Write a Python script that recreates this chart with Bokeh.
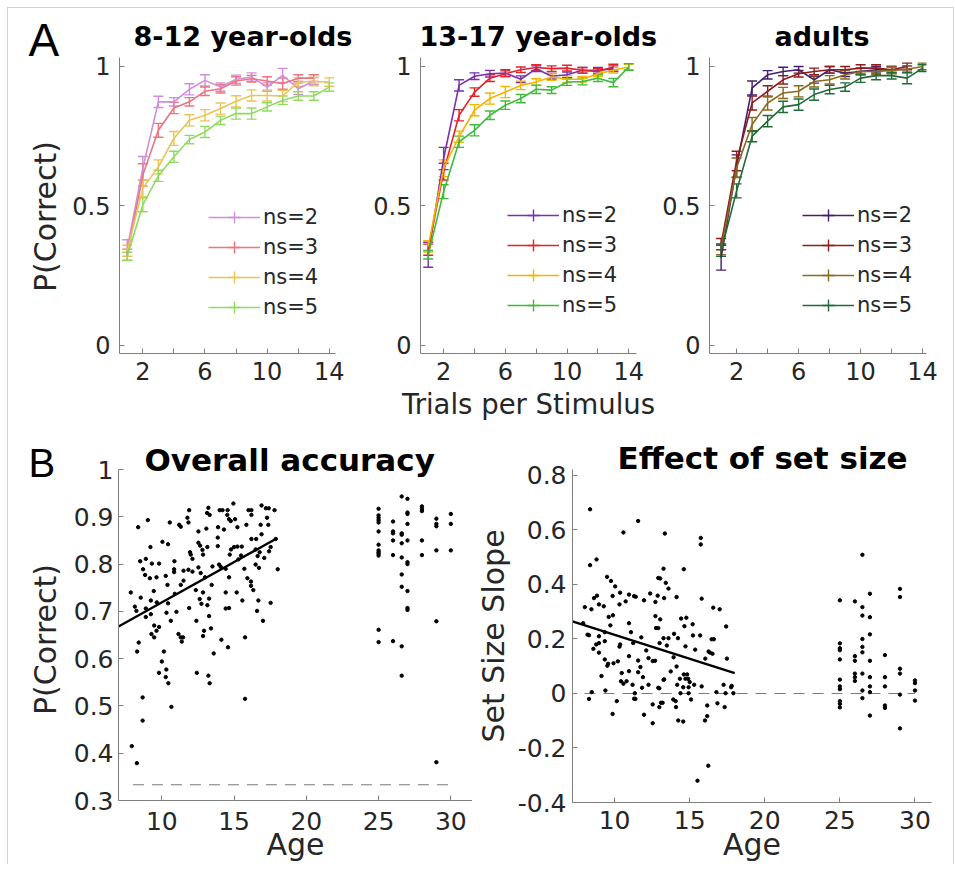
import numpy as np
from bokeh.plotting import figure
from bokeh.layouts import column, row
from bokeh.models import (ColumnDataSource, Whisker, TeeHead, Legend, LegendItem,
                          Label, FixedTicker, Range1d)
from bokeh.embed import file_html
from bokeh.resources import INLINE

FONT = "DejaVu Sans"
LETTER_FONT = "Liberation Sans"
TXT = "#262626"
AXC = "#808080"

# ---------------- Panel A data ----------------
trials = [1, 2, 3, 4, 5, 6, 7, 8, 9, 10, 11, 12, 13, 14]
set_size_labels = ["ns=2", "ns=3", "ns=4", "ns=5"]
group_titles = ["8-12 year-olds", "13-17 year-olds", "adults"]

# 8-12 year-olds
kid_ns2 = [0.349, 0.635, 0.873, 0.873, 0.918, 0.950, 0.926, 0.954, 0.962, 0.926, 0.968, 0.920, 0.948]
kid_ns3 = [0.325, 0.611, 0.771, 0.851, 0.873, 0.911, 0.920, 0.948, 0.956, 0.948, 0.938, 0.958, 0.958]
kid_ns4 = [0.339, 0.563, 0.640, 0.742, 0.807, 0.825, 0.849, 0.875, 0.896, 0.896, 0.894, 0.944, 0.946, 0.944]
kid_ns5 = [0.319, 0.504, 0.608, 0.676, 0.738, 0.765, 0.807, 0.831, 0.831, 0.855, 0.879, 0.894, 0.894, 0.926]
kid_err2 = [0.030, 0.042, 0.020, 0.015, 0.020, 0.020, 0.015, 0.015, 0.015, 0.015, 0.025, 0.020, 0.012]
kid_err3 = [0.020, 0.040, 0.025, 0.020, 0.015, 0.015, 0.015, 0.015, 0.012, 0.015, 0.020, 0.012, 0.012]
kid_err4 = [0.020, 0.030, 0.025, 0.025, 0.020, 0.020, 0.020, 0.020, 0.020, 0.020, 0.020, 0.015, 0.015, 0.015]
kid_err5 = [0.015, 0.025, 0.020, 0.020, 0.015, 0.020, 0.015, 0.020, 0.020, 0.015, 0.015, 0.015, 0.015, 0.015]

# 13-17 year-olds
teen_ns2 = [0.325, 0.670, 0.932, 0.965, 0.974, 0.976, 0.954, 0.992, 0.965, 0.970, 0.986, 0.986, 0.992]
teen_ns3 = [0.343, 0.623, 0.825, 0.908, 0.958, 0.974, 0.988, 0.996, 0.992, 0.994, 0.986, 0.982, 0.998]
teen_ns4 = [0.355, 0.635, 0.748, 0.843, 0.885, 0.908, 0.932, 0.944, 0.962, 0.954, 0.954, 0.974, 0.986, 0.998]
teen_ns5 = [0.325, 0.551, 0.730, 0.771, 0.825, 0.861, 0.885, 0.918, 0.915, 0.944, 0.946, 0.958, 0.942, 0.998]
teen_err2 = [0.045, 0.040, 0.020, 0.012, 0.012, 0.012, 0.012, 0.010, 0.010, 0.010, 0.010, 0.010, 0.010]
teen_err3 = [0.020, 0.030, 0.020, 0.015, 0.012, 0.010, 0.010, 0.010, 0.010, 0.010, 0.010, 0.010, 0.010]
teen_err4 = [0.020, 0.030, 0.020, 0.020, 0.020, 0.020, 0.015, 0.012, 0.012, 0.012, 0.010, 0.010, 0.010, 0.010]
teen_err5 = [0.015, 0.025, 0.020, 0.020, 0.015, 0.015, 0.015, 0.015, 0.012, 0.012, 0.012, 0.012, 0.015, 0.012]

# adults
adult_ns2 = [0.315, 0.643, 0.923, 0.970, 0.982, 0.988, 0.952, 0.988, 0.976, 0.982, 0.988, 0.988, 0.990]
adult_ns3 = [0.363, 0.661, 0.869, 0.911, 0.952, 0.974, 0.982, 0.988, 0.988, 0.994, 0.994, 0.988, 1.000]
adult_ns4 = [0.345, 0.637, 0.792, 0.869, 0.905, 0.911, 0.946, 0.952, 0.970, 0.982, 0.982, 0.986, 0.990, 1.000]
adult_ns5 = [0.339, 0.554, 0.750, 0.804, 0.855, 0.863, 0.899, 0.917, 0.926, 0.958, 0.967, 0.967, 0.958, 0.994]
adult_err2 = [0.045, 0.040, 0.025, 0.015, 0.015, 0.012, 0.012, 0.012, 0.012, 0.012, 0.012, 0.012, 0.012]
adult_err3 = [0.020, 0.035, 0.025, 0.020, 0.015, 0.012, 0.012, 0.012, 0.012, 0.012, 0.012, 0.012, 0.012]
adult_err4 = [0.020, 0.035, 0.025, 0.025, 0.020, 0.020, 0.020, 0.015, 0.015, 0.012, 0.012, 0.012, 0.012, 0.012]
adult_err5 = [0.020, 0.025, 0.020, 0.020, 0.020, 0.020, 0.020, 0.015, 0.015, 0.015, 0.015, 0.012, 0.020, 0.012]

kid_colors = ["#cf8fda", "#ec7580", "#eac456", "#8fdb60"]
teen_colors = ["#7b30ad", "#e2242a", "#f2b600", "#3fbb3c"]
adult_colors = ["#432170", "#8c1c1e", "#8a6a1b", "#1f6a36"]

# ---------------- Panel B data ----------------
child_age_acc = [14.95, 13.22, 11.89, 14.0, 14.2, 14.55, 16.0, 16.2, 16.9, 17.2, 17.4, 17.8, 9.03, 8.36,
                 10.55, 11.77, 11.84, 13.13, 13.31, 14.53, 14.65, 14.77, 15.07, 15.85, 16.2, 17.28, 17.37,
                 16.84, 11.2, 11.31, 13.89, 12.53, 13.08, 14.3, 15.23, 16.9, 16.53, 16.2, 9.21, 10.04, 10.43,
                 12.53, 12.65, 13.87, 13.87, 13.15, 12.81, 11.95, 12.0, 12.12, 12.85, 14.7, 14.79, 15.0, 15.23,
                 15.53, 15.48, 16.49, 16.63, 16.77, 17.42, 17.53, 8.5, 8.89, 9.31, 9.81, 10.87, 8.7, 8.84, 9.17,
                 9.63, 10.27, 10.85, 10.85, 11.5, 11.84, 12.12, 12.53, 12.69, 12.99, 13.5, 13.96, 14.08, 14.42,
                 14.65, 15.3, 15.71, 15.92, 16.17, 16.49, 16.72, 17.09, 17.88, 18.02, 7.85, 8.54, 8.13, 8.24,
                 8.89, 8.89, 9.24, 9.24, 9.44, 9.65, 10.39, 10.43, 10.9, 11.01, 11.31, 11.5, 11.89, 12.35,
                 12.62, 12.74, 12.39, 12.85, 13.27, 13.27, 13.15, 13.45, 14.42, 14.42, 14.65, 15.18, 15.57,
                 16.17, 16.33, 16.68, 16.59, 17.53, 17.0, 9.47, 9.81, 9.28, 9.47, 9.63, 10.32, 10.62, 11.15,
                 11.31, 11.47, 11.38, 10.14, 8.29, 8.4, 10.0, 12.85, 12.92, 13.4, 14.12, 14.58, 13.59, 15.76,
                 9.8, 10.31, 10.27, 10.45, 12.42, 13.22, 13.31, 8.67, 10.66, 8.67, 15.76, 7.92, 8.27]
child_acc = [0.928, 0.919, 0.914, 0.914, 0.914, 0.914, 0.914, 0.914, 0.924, 0.918, 0.918, 0.914, 0.893, 0.878,
             0.888, 0.898, 0.888, 0.908, 0.904, 0.904, 0.895, 0.891, 0.895, 0.883, 0.904, 0.898, 0.883,
             0.883, 0.883, 0.879, 0.878, 0.869, 0.875, 0.873, 0.878, 0.863, 0.853, 0.853, 0.836, 0.847, 0.842,
             0.845, 0.839, 0.856, 0.838, 0.836, 0.830, 0.825, 0.820, 0.811, 0.820, 0.820, 0.831, 0.836, 0.837,
             0.837, 0.818, 0.831, 0.817, 0.825, 0.827, 0.836, 0.806, 0.811, 0.801, 0.801, 0.806, 0.789, 0.777, 0.770,
             0.772, 0.775, 0.789, 0.783, 0.786, 0.788, 0.784, 0.793, 0.781, 0.772, 0.795, 0.799, 0.794, 0.790,
             0.772, 0.810, 0.790, 0.770, 0.763, 0.799, 0.792, 0.813, 0.853, 0.789, 0.740, 0.729, 0.710, 0.701,
             0.706, 0.688, 0.723, 0.694, 0.743, 0.719, 0.756, 0.717, 0.737, 0.699, 0.756, 0.765, 0.707, 0.745,
             0.726, 0.716, 0.680, 0.740, 0.727, 0.690, 0.713, 0.756, 0.740, 0.706, 0.707, 0.740, 0.723,
             0.754, 0.745, 0.723, 0.701, 0.718, 0.680, 0.670, 0.667, 0.652, 0.645, 0.659, 0.697, 0.680, 0.652,
             0.645, 0.645, 0.636, 0.615, 0.615, 0.634, 0.594, 0.648, 0.659, 0.664, 0.640, 0.624, 0.611, 0.645,
             0.570, 0.577, 0.561, 0.548, 0.570, 0.564, 0.548, 0.518, 0.498, 0.469, 0.515, 0.415, 0.379]

adult_age_acc = [25, 25, 25, 25, 25, 25, 25, 25, 25, 25, 25, 25, 25,
                 26, 26, 26, 26, 26, 26,
                 26.6, 26.6, 26.6, 26.6, 26.6, 26.6, 26.6, 26.6, 26.6,
                 27, 27, 27, 27, 27, 27, 27, 27, 27, 27,
                 28, 28, 28, 28, 28,
                 29, 29, 29, 29, 29, 29,
                 30, 30, 30]
adult_acc = [0.917, 0.903, 0.898, 0.893, 0.888, 0.869, 0.841, 0.829, 0.825, 0.822, 0.818, 0.661, 0.635,
             0.890, 0.869, 0.865, 0.850, 0.819, 0.637,
             0.943, 0.865, 0.862, 0.844, 0.814, 0.778, 0.752, 0.626, 0.564,
             0.938, 0.909, 0.906, 0.885, 0.850, 0.804, 0.800, 0.743, 0.707, 0.703,
             0.922, 0.917, 0.912, 0.850, 0.819,
             0.896, 0.885, 0.880, 0.829, 0.679, 0.381,
             0.906, 0.885, 0.829]

child_age_slope = [8.37, 11.57, 10.59, 13.35, 15.74, 15.74, 8.37, 8.8, 13.26, 14.61, 9.5, 9.76, 10.04, 12.91,
                   13.04, 13.41, 13.59, 10.37, 12.37, 9.87, 8.63, 8.83, 10.96, 11.3, 11.41, 11.96, 12.87, 13.3,
                   14.13, 15.8, 8.02, 8.46, 8.96, 9.28, 10.33, 10.74, 12.72, 16.57, 17.0, 9.61, 9.89, 12.72,
                   13.04, 10.96, 14.43, 14.78, 7.91, 9.72, 14.65, 12.76, 12.91, 15.2, 17.43, 11.09, 8.2, 8.3,
                   8.96, 9.35, 11.78, 13.26, 13.59, 13.96, 14.22, 15.22, 15.7, 16.46, 16.61, 8.96, 8.78, 9.35,
                   8.59, 11.24, 12.11, 13.0, 13.48, 14.72, 15.37, 16.26, 16.35, 16.52, 8.96, 10.37, 10.33, 10.96,
                   11.57, 12.26, 12.54, 12.7, 13.93, 16.04, 17.48, 9.35, 9.57, 9.93, 10.22,
                   9.13, 9.52, 10.48, 10.43, 10.59, 10.8, 10.96, 11.2, 11.57, 11.72, 11.89, 11.83, 11.35, 11.3,
                   12.26, 12.91, 12.98, 13.26, 13.3, 13.74, 14.13, 14.17, 14.35, 14.61, 14.83, 14.72, 14.9,
                   14.57, 14.93, 15.0, 15.3, 15.8, 14.39, 14.93, 16.78, 17.26, 17.76, 17.8, 17.39, 17.91, 8.3,
                   8.48, 9.39, 10.15, 9.87, 11.39, 11.96, 12.54, 12.54, 12.98, 13.09, 13.2, 13.91, 14.07, 14.09,
                   14.24, 14.57, 15.09, 16.02, 16.17, 16.17, 16.85, 17.33, 16.24, 15.52]
child_slope = [0.676, 0.633, 0.591, 0.587, 0.571, 0.547, 0.471, 0.492, 0.458, 0.456, 0.428, 0.413, 0.393, 0.424,
               0.422, 0.406, 0.385, 0.370, 0.367, 0.358, 0.350, 0.359, 0.363, 0.357, 0.355, 0.342, 0.359, 0.350,
               0.354, 0.348, 0.317, 0.309, 0.327, 0.320, 0.327, 0.338, 0.336, 0.315, 0.309, 0.281, 0.287, 0.284,
               0.272, 0.258, 0.275, 0.278, 0.258, 0.250, 0.247, 0.240, 0.240, 0.254, 0.246, 0.225, 0.216, 0.214,
               0.210, 0.225, 0.206, 0.203, 0.203, 0.219, 0.203, 0.213, 0.213, 0.199, 0.199, 0.185, 0.180, 0.192,
               0.164, 0.185, 0.158, 0.185, 0.176, 0.173, 0.161, 0.154, 0.150, 0.146, 0.150, 0.180, 0.172, 0.137,
               0.121, 0.130, 0.119, 0.120, 0.133, 0.128, 0.128, 0.125, 0.109, 0.111, 0.118,
               0.064, 0.102, 0.075, 0.045, 0.036, 0.045, 0.082, 0.032, 0.078, 0.097, 0.060, 0.021, 0.001, -0.019,
               0.032, 0.021, 0.019, 0.050, 0.052, 0.081, 0.099, 0.032, 0.054, 0.070, 0.070, 0.054, 0.054,
               0.023, 0.023, 0.042, 0.032, 0.026, 0.001, 0.001, 0.005, 0.032, 0.023, 0.028, 0.001, 0.001, -0.020,
               0.005, 0.011, -0.028, -0.075, -0.020, -0.078, -0.040, -0.109, -0.050, -0.034, -0.034, -0.022, -0.028, -0.050,
               -0.099, -0.103, -0.022, -0.099, -0.083, -0.044, -0.036, -0.050, -0.265, -0.320]

adult_age_slope = [25, 25, 25, 25, 25, 25, 25, 25, 25, 25, 25,
                   26, 26, 26, 26, 26, 26,
                   26.5, 26.5, 26.5, 26.5, 26.5, 26.5, 26.5, 26.5, 26.5,
                   27, 27, 27, 27, 27, 27, 27, 27,
                   28, 28, 28, 28, 28,
                   29, 29, 29, 29, 29, 29,
                   30, 30, 30, 30]
adult_slope = [0.342, 0.184, 0.166, 0.159, 0.125, 0.051, 0.026, 0.016, -0.028, -0.038, -0.051,
               0.338, 0.137, 0.120, 0.073, 0.060, 0.046,
               0.509, 0.317, 0.286, 0.200, 0.171, 0.151, 0.073, 0.011, -0.017,
               0.366, 0.280, 0.217, 0.120, 0.060, 0.026, 0.005, -0.081,
               0.141, 0.060, 0.026, -0.044, -0.053,
               0.384, 0.354, 0.091, 0.073, -0.004, -0.128,
               0.048, 0.038, 0.011, -0.026]

fit_age = [7.0, 18.0]
fit_acc = [0.668, 0.855]
fit_slope = [0.268, 0.075]
chance_age = [8.0, 30.3]
chance_acc = [1 / 3, 1 / 3]
zero_age = [8.0, 30.0]
zero_slope = [0.0, 0.0]

acc_ticks = [0.3, 0.4, 0.5, 0.6, 0.7, 0.8, 0.9, 1.0]
acc_tick_labels = ["0.3", "0.4", "0.5", "0.6", "0.7", "0.8", "0.9", "1"]
slope_ticks = [-0.4, -0.2, 0.0, 0.2, 0.4, 0.6, 0.8]
slope_tick_labels = ["-0.4", "-0.2", "0", "0.2", "0.4", "0.6", "0.8"]
age_ticks = [10, 15, 20, 25, 30]
trial_ticks = [2, 4, 6, 8, 10, 12, 14]
trial_tick_labels = ["2", "", "6", "", "10", "", "14"]
pc_ticks = [0, 0.5, 1]
pc_tick_labels = ["0", "0.5", "1"]


def style_axes(p, tick_px, y_standoff, x_standoff):
    for ax in list(p.xaxis) + list(p.yaxis):
        ax.axis_line_color = AXC
        ax.axis_line_width = 1
        ax.major_tick_line_color = AXC
        ax.major_tick_in = 5
        ax.major_tick_out = 0
        ax.minor_tick_line_color = None
        ax.major_label_text_font = FONT
        ax.major_label_text_font_size = f"{tick_px}px"
        ax.major_label_text_color = TXT
        ax.axis_label_text_font = FONT
        ax.axis_label_text_font_size = "30px"
        ax.axis_label_text_font_style = "normal"
        ax.axis_label_text_color = TXT
    p.yaxis.major_label_standoff = y_standoff
    p.xaxis.major_label_standoff = x_standoff
    p.xgrid.visible = False
    p.ygrid.visible = False
    p.outline_line_color = None
    p.background_fill_color = "white"
    p.border_fill_color = "white"


def set_title(p, text, offset, standoff, size, font=FONT, style="bold"):
    p.title.text = text
    p.title.align = "left"
    p.title.offset = offset
    p.title.standoff = standoff
    p.title.text_font = font
    p.title.text_font_size = size
    p.title.text_font_style = style
    p.title.text_color = "black"


def strip(frame_h, top, bottom, letter, letter_px, letter_standoff, ylab_y):
    # margin strip: panel letter (as title) and the shared y-axis title
    s = figure(frame_width=58, frame_height=frame_h, x_range=Range1d(0, 1), y_range=Range1d(0, 1),
               toolbar_location=None, output_backend="svg", x_axis_location=None,
               y_axis_location=None, min_border_left=0, min_border_right=0,
               min_border_top=top, min_border_bottom=bottom)
    s.xgrid.visible = False
    s.ygrid.visible = False
    s.outline_line_color = None
    set_title(s, letter, 20, letter_standoff, letter_px, font=LETTER_FONT, style="normal")
    s.add_layout(Label(x=37, y=ylab_y, x_units="screen", y_units="screen", text="P(Correct)",
                       angle=np.pi / 2, text_font=FONT, text_font_size="30px", text_color=TXT,
                       text_baseline="middle", text_align="center"))
    return s


def panel_a(series, errors, colors, xr, fw, left, right, legend_loc, title, toff):
    p = figure(frame_width=fw, frame_height=296, x_range=Range1d(*xr), y_range=Range1d(-0.029, 1.032),
               toolbar_location=None, output_backend="svg",
               min_border_left=left, min_border_right=right, min_border_top=49, min_border_bottom=80)
    items = []
    for ys, es, c, lab in zip(series, errors, colors, set_size_labels):
        xs = trials[:len(ys)]
        y = np.array(ys)
        e = np.array(es)
        src = ColumnDataSource(dict(x=xs, y=ys, upper=list(y + e), lower=list(y - e)))
        r = p.line("x", "y", source=src, line_color=c, line_width=1.6)
        p.add_layout(Whisker(source=src, base="x", upper="upper", lower="lower",
                             line_color=c, line_width=1.4,
                             upper_head=TeeHead(size=10, line_color=c, line_width=1.4),
                             lower_head=TeeHead(size=10, line_color=c, line_width=1.4)))
        # zero-size markers: invisible on the plot, give the legend its error-bar stroke
        bar = p.scatter("x", "y", source=src, marker="cross", size=0,
                        line_color=c, line_width=1.4)
        items.append(LegendItem(label=lab, renderers=[r, bar]))
    leg = Legend(items=items, location=legend_loc, orientation="vertical",
                 background_fill_alpha=0, border_line_color=None, padding=0, margin=0,
                 spacing=0, glyph_width=52, glyph_height=30, label_height=30, label_standoff=3,
                 label_text_font=FONT, label_text_font_size="21px", label_text_color=TXT)
    p.add_layout(leg, "center")
    p.xaxis.ticker = FixedTicker(ticks=trial_ticks)
    p.xaxis.major_label_overrides = dict(zip(trial_ticks, trial_tick_labels))
    p.yaxis.ticker = FixedTicker(ticks=pc_ticks)
    p.yaxis.major_label_overrides = dict(zip(pc_ticks, pc_tick_labels))
    style_axes(p, 24, 9, 8)
    set_title(p, title, toff, 11, "27px")
    return p


strip_a = strip(296, 49, 80, "A", "46px", -16, 137)

a1 = panel_a([kid_ns2, kid_ns3, kid_ns4, kid_ns5], [kid_err2, kid_err3, kid_err4, kid_err5],
             kid_colors, (0.5, 14.4), 216, 53, 27, (89, 31), group_titles[0], 14)

a2 = panel_a([teen_ns2, teen_ns3, teen_ns4, teen_ns5], [teen_err2, teen_err3, teen_err4, teen_err5],
             teen_colors, (0.5, 14.5), 216, 58, 22, (87, 33), group_titles[1], -1)
a2.xaxis.axis_label = "Trials per Stimulus"
a2.xaxis.axis_label_text_font_size = "27.5px"
a2.xaxis.axis_label_standoff = 5

a3 = panel_a([adult_ns2, adult_ns3, adult_ns4, adult_ns5], [adult_err2, adult_err3, adult_err4, adult_err5],
             adult_colors, (0.25, 14.25), 217, 51, 21, (93, 33), group_titles[2], 65)

# ---------- panel B ----------
strip_b = strip(331, 36, 60, "B", "40px", -31, 161)

b1 = figure(frame_width=354, frame_height=331, x_range=Range1d(7, 31.5), y_range=Range1d(0.3, 1.0),
            toolbar_location=None, output_backend="svg",
            min_border_left=52, min_border_right=0, min_border_top=36, min_border_bottom=60)
b1.line(chance_age, chance_acc, line_color="#7a7a7a", line_width=1.2, line_dash="11 8")
b1.scatter(child_age_acc, child_acc, size=3.4, color="black")
b1.scatter(adult_age_acc, adult_acc, size=3.4, color="black")
b1.line(fit_age, fit_acc, line_color="black", line_width=2.4)
b1.xaxis.ticker = FixedTicker(ticks=age_ticks)
b1.yaxis.ticker = FixedTicker(ticks=acc_ticks)
b1.yaxis.major_label_overrides = dict(zip(acc_ticks, acc_tick_labels))
style_axes(b1, 25, 5, 11)
b1.xaxis.axis_label = "Age"
b1.xaxis.axis_label_standoff = -6
set_title(b1, "Overall accuracy", 26, -17, "31px")

b2 = figure(frame_width=359, frame_height=333, x_range=Range1d(7.2, 31.1), y_range=Range1d(-0.4, 0.822),
            toolbar_location=None, output_backend="svg",
            min_border_left=94, min_border_right=22, min_border_top=36, min_border_bottom=60)
b2.line(zero_age, zero_slope, line_color="#7a7a7a", line_width=1.2, line_dash="11 8")
b2.scatter(child_age_slope, child_slope, size=3.4, color="black")
b2.scatter(adult_age_slope, adult_slope, size=3.4, color="black")
b2.line(fit_age, fit_slope, line_color="black", line_width=2.4)
b2.xaxis.ticker = FixedTicker(ticks=age_ticks)
b2.yaxis.ticker = FixedTicker(ticks=slope_ticks)
b2.yaxis.major_label_overrides = dict(zip(slope_ticks, slope_tick_labels))
style_axes(b2, 25, 6, 8)
b2.xaxis.axis_label = "Age"
b2.yaxis.axis_label = "Set Size Slope"
b2.xaxis.axis_label_standoff = -5
b2.yaxis.axis_label_standoff = 4
set_title(b2, "Effect of set size", 45, -13, "31px")

layout = column(row(strip_a, a1, a2, a3), row(strip_b, b1, b2),
                styles={"margin": "7px 0px 0px 7px", "border": "1px solid #d2d2d2",
                        "border-bottom": "none"})

open("out.html", "w").write(file_html(layout, INLINE))
